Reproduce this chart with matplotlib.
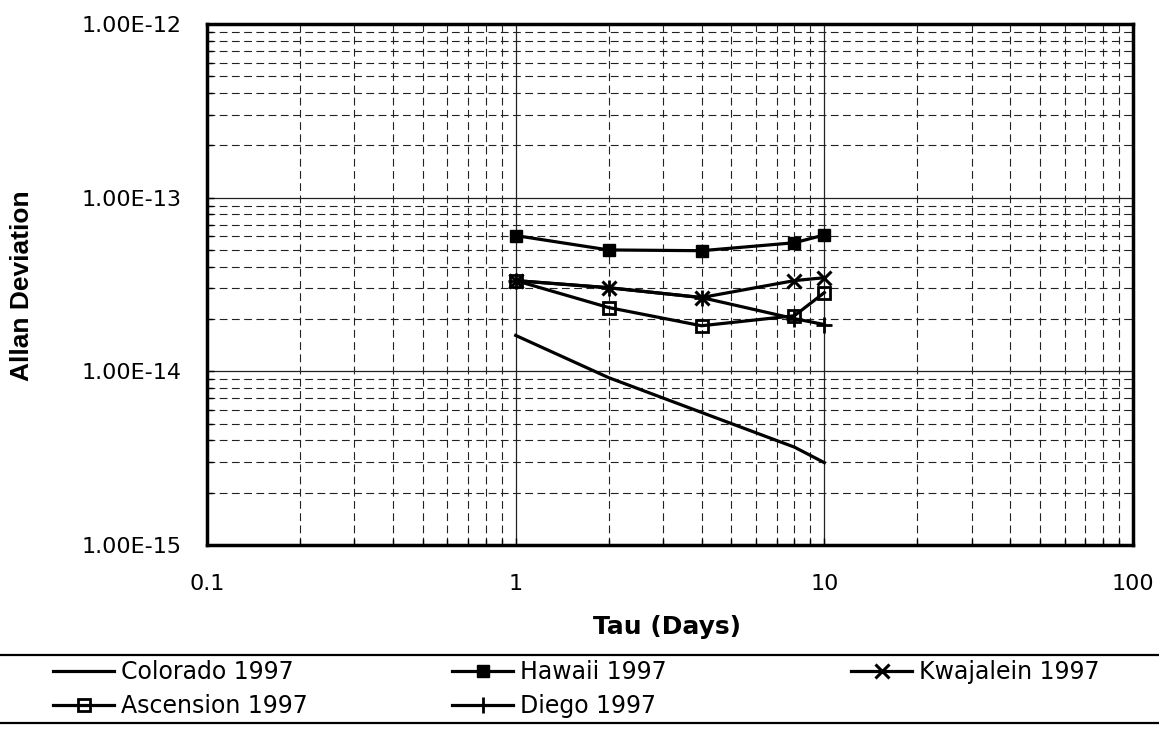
import matplotlib
matplotlib.use("Agg")
import matplotlib.pyplot as plt
from matplotlib.lines import Line2D
from matplotlib.ticker import FixedLocator, FuncFormatter, LogLocator, NullFormatter

# Allan deviation vs averaging time (days)
tau = [1, 2, 4, 8, 10]
colorado = [1.61e-14, 9.2e-15, 5.8e-15, 3.66e-15, 2.98e-15]
hawaii = [6.05e-14, 5.0e-14, 4.95e-14, 5.5e-14, 6.1e-14]
kwajalein = [3.33e-14, 3.03e-14, 2.66e-14, 3.33e-14, 3.46e-14]
ascension = [3.33e-14, 2.33e-14, 1.83e-14, 2.09e-14, 2.84e-14]
diego = [3.33e-14, 3.03e-14, 2.66e-14, 2.01e-14, 1.86e-14]

x_ticks = [0.1, 1, 10, 100]
y_ticks = [1e-15, 1e-14, 1e-13, 1e-12]

fig = plt.figure(figsize=(11.59, 7.29), dpi=100)
ax = fig.add_axes([207 / 1159, 1 - 545 / 729, 926 / 1159, 521 / 729])

ax.set_xscale("log")
ax.set_yscale("log")
ax.set_xlim(0.1, 100)
ax.set_ylim(1e-15, 1e-12)

# gridlines: solid at decades, dashed at the minor steps
ax.grid(True, which="major", color="#222222", linewidth=0.9, linestyle="-", zorder=0)
ax.grid(True, which="minor", color="#222222", linewidth=0.8, linestyle=(0, (7, 4)), zorder=0)

lw = 2.3
ax.plot(tau, colorado, color="black", lw=lw, label="Colorado 1997", zorder=3)
ax.plot(tau, hawaii, color="black", lw=lw, marker="s", ms=9, label="Hawaii 1997", zorder=3)
ax.plot(tau, kwajalein, color="black", lw=lw, marker="x", ms=10, mew=2.2,
        label="Kwajalein 1997", zorder=3)
ax.plot(tau, ascension, color="black", lw=lw, marker="s", ms=9, mfc="none", mew=2,
        label="Ascension 1997", zorder=3)
ax.plot(tau, diego, color="black", lw=lw, marker="+", ms=12, mew=2,
        label="Diego 1997", zorder=3)

ax.xaxis.set_major_locator(FixedLocator(x_ticks))
ax.xaxis.set_major_formatter(FuncFormatter(lambda v, p: f"{v:g}"))
ax.xaxis.set_minor_locator(LogLocator(base=10, subs=range(2, 10)))
ax.xaxis.set_minor_formatter(NullFormatter())
ax.yaxis.set_major_locator(FixedLocator(y_ticks))
ax.yaxis.set_major_formatter(FuncFormatter(lambda v, p: f"{v:.2E}"))
ax.yaxis.set_minor_locator(LogLocator(base=10, subs=range(2, 10)))
ax.yaxis.set_minor_formatter(NullFormatter())

ax.tick_params(which="major", direction="in", length=5, width=1)
ax.tick_params(which="minor", direction="in", length=4, width=1)
ax.tick_params(axis="x", which="major", pad=21, labelsize=16)
ax.tick_params(axis="y", which="major", pad=18, labelsize=16)

for s in ax.spines.values():
    s.set_linewidth(2.5)
    s.set_color("black")

fig.text(667 / 1159, 1 - 627 / 729, "Tau (Days)", ha="center", va="center",
         fontsize=18, fontweight="bold")
fig.text(22 / 1159, 1 - 286 / 729, "Allan Deviation", ha="center", va="center",
         rotation=90, fontsize=19, fontweight="bold",
         family=["Liberation Sans Narrow", "Liberation Sans", "DejaVu Sans"])

# legend strip: full-width rules above and below, three columns
for yy in (655, 723):
    fig.add_artist(Line2D([0, 1], [1 - yy / 729] * 2, transform=fig.transFigure,
                          color="black", lw=1.6))

handles, labels = ax.get_legend_handles_labels()
hmap = dict(zip(labels, handles))
columns = [(53, ["Colorado 1997", "Ascension 1997"]),
           (452, ["Hawaii 1997", "Diego 1997"]),
           (851, ["Kwajalein 1997"])]
for x0, names in columns:
    leg = fig.legend([hmap[n] for n in names], names, loc="upper left",
                     bbox_to_anchor=(x0 / 1159, 1 - 660 / 729), frameon=False,
                     fontsize=17, handlelength=2.6, handletextpad=0.3,
                     borderpad=0, borderaxespad=0, labelspacing=0.42)

fig.savefig("out.png", dpi=100)
